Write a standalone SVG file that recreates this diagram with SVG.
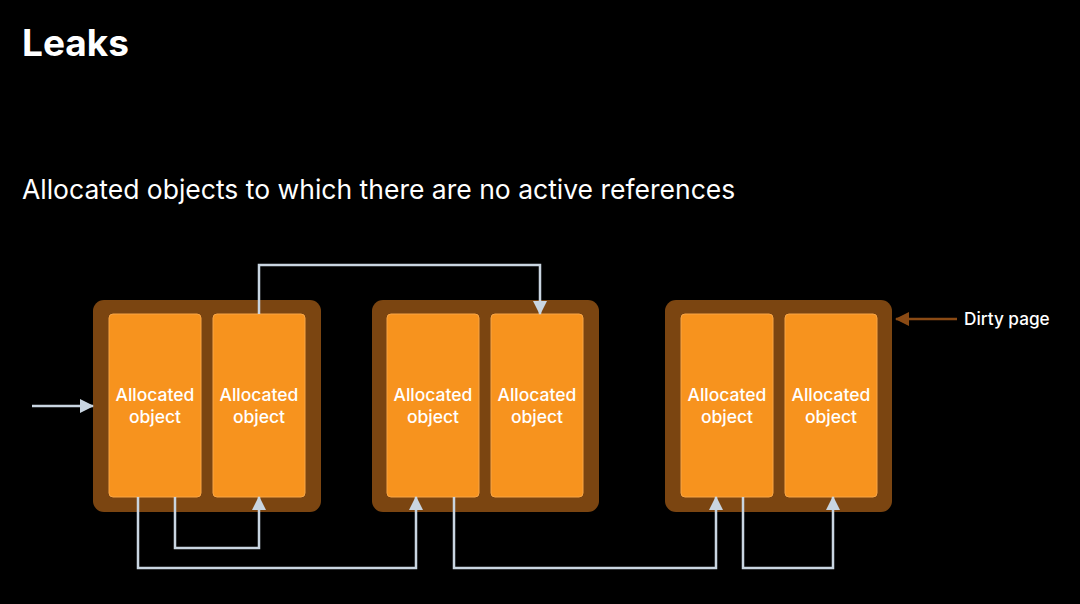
<svg xmlns="http://www.w3.org/2000/svg" width="1080" height="604" viewBox="0 0 1080 604">
<defs>
<marker id="ah" viewBox="0 0 14 14" refX="13" refY="7" markerWidth="14" markerHeight="14" markerUnits="userSpaceOnUse" orient="auto">
<path d="M0,0 L14,7 L0,14 Z" fill="#c9d5e1"/>
</marker>
<marker id="ahb" viewBox="0 0 14 14" refX="13" refY="7" markerWidth="14" markerHeight="14" markerUnits="userSpaceOnUse" orient="auto">
<path d="M0,0 L14,7 L0,14 Z" fill="#8a4a14"/>
</marker>
</defs>
<style>
.page{fill:#7b4511}
.obj{fill:#f7931e;stroke:#f9a544;stroke-width:1}
.lbl{font-family:"Inter","Liberation Sans",sans-serif;font-size:17.5px;fill:#ffffff;text-anchor:middle;font-weight:500}
.conn{fill:none;stroke:#c9d5e1;stroke-width:2.5}
</style>
<rect width="1080" height="604" fill="#000"/>
<text x="22" y="56" font-family="Inter, 'Liberation Sans', sans-serif" font-size="37" font-weight="700" fill="#fff">Leaks</text>
<text x="22" y="199" font-family="Inter, 'Liberation Sans', sans-serif" font-size="26.5" fill="#fff">Allocated objects to which there are no active references</text>

<g id="page1">
<rect class="page" x="93" y="300" width="228" height="212" rx="11"/>
<g id="obj1"><rect class="obj" x="109" y="314" width="92" height="183" rx="4"/><text class="lbl" x="155" y="401">Allocated</text><text class="lbl" x="155" y="423">object</text></g>
<g id="obj2"><rect class="obj" x="213" y="314" width="92" height="183" rx="4"/><text class="lbl" x="259" y="401">Allocated</text><text class="lbl" x="259" y="423">object</text></g>
</g>
<g id="page2">
<rect class="page" x="372" y="300" width="227" height="212" rx="11"/>
<g id="obj3"><rect class="obj" x="387" y="314" width="92" height="183" rx="4"/><text class="lbl" x="433" y="401">Allocated</text><text class="lbl" x="433" y="423">object</text></g>
<g id="obj4"><rect class="obj" x="491" y="314" width="92" height="183" rx="4"/><text class="lbl" x="537" y="401">Allocated</text><text class="lbl" x="537" y="423">object</text></g>
</g>
<g id="page3">
<rect class="page" x="665" y="300" width="227" height="212" rx="11"/>
<g id="obj5"><rect class="obj" x="681" y="314" width="92" height="183" rx="4"/><text class="lbl" x="727" y="401">Allocated</text><text class="lbl" x="727" y="423">object</text></g>
<g id="obj6"><rect class="obj" x="785" y="314" width="92" height="183" rx="4"/><text class="lbl" x="831" y="401">Allocated</text><text class="lbl" x="831" y="423">object</text></g>
</g>
<g id="dirty">
<text x="964" y="325" font-family="Inter, 'Liberation Sans', sans-serif" font-size="17.2" font-weight="500" fill="#fff">Dirty page</text>
</g>

<g id="connectors">
<path class="conn" d="M32,406 H93" marker-end="url(#ah)"/>
<path class="conn" d="M259,314 V265 H540 V314" marker-end="url(#ah)"/>
<path class="conn" d="M138,497 V568 H416 V497" marker-end="url(#ah)"/>
<path class="conn" d="M175,497 V548 H259 V497" marker-end="url(#ah)"/>
<path class="conn" d="M454,497 V568 H716 V497" marker-end="url(#ah)"/>
<path class="conn" d="M743,497 V568 H833 V497" marker-end="url(#ah)"/>
<path d="M957,319 H896" fill="none" stroke="#8a4a14" stroke-width="2.5" marker-end="url(#ahb)"/>
</g>
</svg>
